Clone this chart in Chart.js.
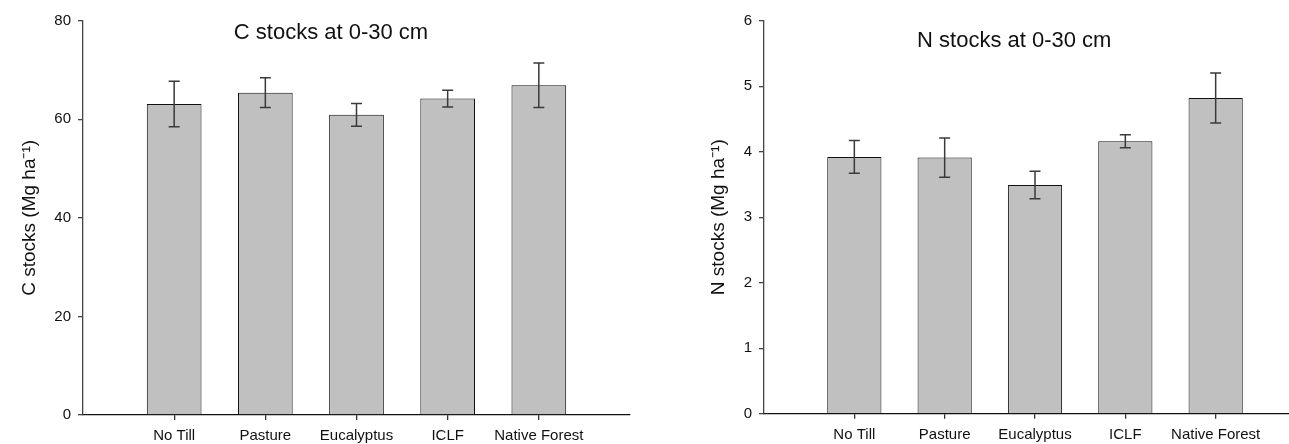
<!DOCTYPE html>
<html>
<head>
<meta charset="utf-8">
<script src="https://cdn.jsdelivr.net/npm/chart.js@4.4.1/dist/chart.umd.min.js"></script>
<style>
  html, body { margin: 0; padding: 0; background: #fff; overflow: hidden; width: 1289px; height: 444px; }
  canvas { position: absolute; top: 0; }
  #cChart { left: 0; }
  #nChart { left: 680px; }
</style>
</head>
<body>
<canvas id="cChart" width="640" height="444"></canvas>
<canvas id="nChart" width="640" height="444"></canvas>
<script>
// values
const categories = ['No Till', 'Pasture', 'Eucalyptus', 'ICLF', 'Native Forest'];
const cStocks = [63.1, 65.4, 60.9, 64.2, 66.9];
const cErrors = [4.6, 3.0, 2.3, 1.7, 4.5];
const nStocks = [3.92, 3.91, 3.49, 4.16, 4.82];
const nErrors = [0.25, 0.30, 0.21, 0.10, 0.38];
const cTicks = [0, 20, 40, 60, 80];
const nTicks = [0, 1, 2, 3, 4, 5, 6];

const FONT = "'Liberation Sans', Arial, Helvetica, sans-serif";
Chart.defaults.font.family = FONT;
Chart.defaults.color = '#111';

// empty slot at each end, like the original plot
const labels = [''].concat(categories, ['']);

const errorBars = {
  id: 'errorBars',
  afterDatasetsDraw(chart, args, opts) {
    const ctx = chart.ctx;
    const y = chart.scales.y;
    const meta = chart.getDatasetMeta(0);
    ctx.save();
    ctx.strokeStyle = '#3a3a3a';
    ctx.lineWidth = 1.5;
    meta.data.forEach((bar, i) => {
      const v = chart.data.datasets[0].data[i];
      if (v == null) return;
      const e = opts.errors[i - 1];
      const top = y.getPixelForValue(v + e);
      const bot = y.getPixelForValue(v - e);
      ctx.beginPath();
      ctx.moveTo(bar.x, top); ctx.lineTo(bar.x, bot);
      ctx.moveTo(bar.x - 5.5, top); ctx.lineTo(bar.x + 5.5, top);
      ctx.moveTo(bar.x - 5.5, bot); ctx.lineTo(bar.x + 5.5, bot);
      ctx.stroke();
    });
    ctx.restore();
  }
};

const panelTitle = {
  id: 'panelTitle',
  afterDraw(chart, args, opts) {
    const ctx = chart.ctx;
    ctx.save();
    ctx.font = '22px ' + FONT;
    ctx.fillStyle = '#111';
    ctx.textAlign = 'center';
    ctx.textBaseline = 'alphabetic';
    ctx.fillText(opts.text, chart.scales.x.getPixelForValue(opts.xValue), chart.scales.y.getPixelForValue(opts.yValue));
    ctx.restore();
  }
};

function makeChart(id, values, errors, ticks, yTitle, title, opt) {
  new Chart(document.getElementById(id), {
    type: 'bar',
    data: {
      labels: labels,
      datasets: [{
        data: [null].concat(values, [null]),
        backgroundColor: '#c0c0c0',
        borderColor: '#111',
        borderWidth: 1,
        barPercentage: 0.6,
        categoryPercentage: 1
      }]
    },
    options: {
      responsive: false,
      animation: false,
      devicePixelRatio: 1,
      layout: { padding: { top: 20.7, right: opt.padRight, left: 0, bottom: 0 } },
      plugins: {
        legend: { display: false },
        tooltip: { enabled: false },
        errorBars: { errors: errors },
        panelTitle: { text: title, xValue: opt.titleX, yValue: opt.titleY }
      },
      scales: {
        x: {
          type: 'category',
          offset: false,
          afterFit(scale) { scale.height = opt.xHeight; },
          grid: {
            offset: false,
            drawOnChartArea: false,
            drawTicks: true,
            tickLength: 5,
            color: (c) => (c.index === 0 || c.index === labels.length - 1) ? 'rgba(0,0,0,0)' : '#333',
            lineWidth: 1.3
          },
          border: { color: '#111', width: 1.3 },
          ticks: { autoSkip: false, maxRotation: 0, padding: 7, font: { size: 15 }, color: '#111' }
        },
        y: {
          min: ticks[0],
          max: ticks[ticks.length - 1],
          afterFit(scale) { scale.width = opt.yWidth; },
          grid: { drawOnChartArea: false, drawTicks: true, tickLength: 5, color: '#444', lineWidth: 1.3 },
          border: { color: '#444', width: 1.3 },
          ticks: { stepSize: ticks[1] - ticks[0], padding: 7, font: { size: 15 }, color: '#111' },
          title: { display: true, text: yTitle, font: { size: 19 }, color: '#111', padding: { top: opt.titlePad, bottom: 0 } }
        }
      }
    },
    plugins: [errorBars, panelTitle]
  });
}

makeChart('cChart', cStocks, cErrors, cTicks, 'C stocks (Mg ha⁻¹)', 'C stocks at 0-30 cm',
  { padRight: 10, xHeight: 29, yWidth: 83, titlePad: 18, titleX: 2.72, titleY: 76.35 });
makeChart('nChart', nStocks, nErrors, nTicks, 'N stocks (Mg ha⁻¹)', 'N stocks at 0-30 cm',
  { padRight: 14, xHeight: 30.3, yWidth: 84, titlePad: 27, titleX: 2.77, titleY: 5.60 });
</script>
</body>
</html>
